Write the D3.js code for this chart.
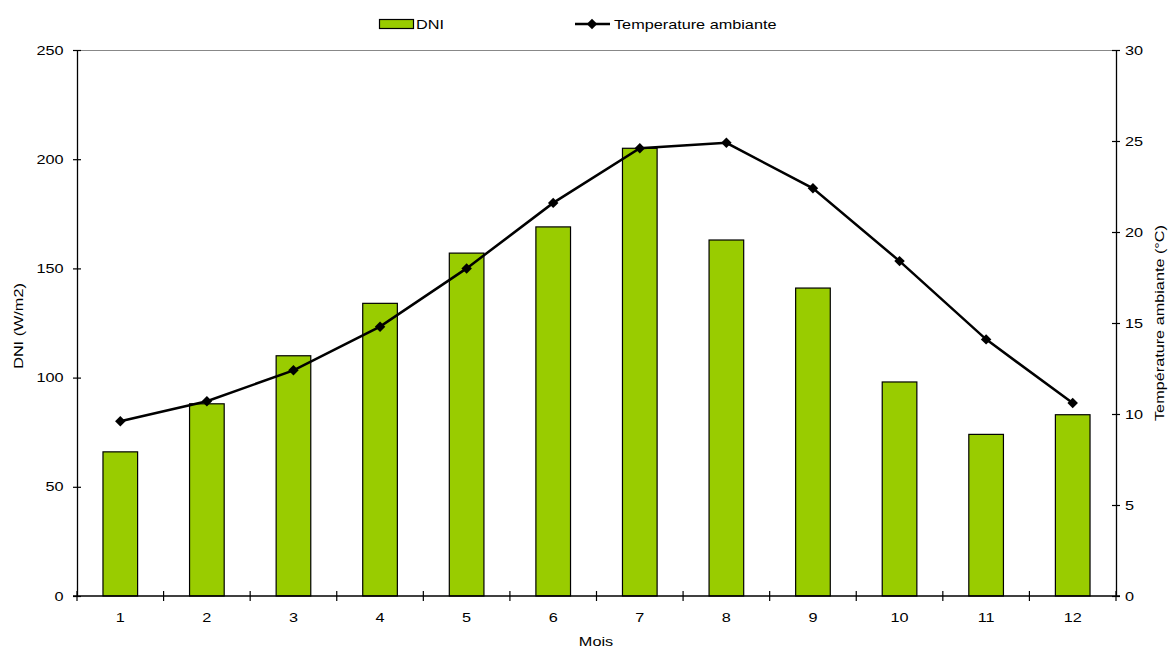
<!DOCTYPE html>
<html>
<head>
<meta charset="utf-8">
<script src="https://cdn.jsdelivr.net/npm/d3@7"></script>
<style>
  body { margin: 0; background: #fff; }
  svg text { font-family: "Liberation Sans", Arial, sans-serif; fill: #000; font-size: 13px; }
</style>
</head>
<body>
<svg id="chart" width="1168" height="648"></svg>
<script>
// Monthly data
const months = [1, 2, 3, 4, 5, 6, 7, 8, 9, 10, 11, 12];
const dni = [66, 88, 110, 134, 157, 169, 205, 163, 141, 98, 74, 83];
const temperature = [9.6, 10.7, 12.4, 14.8, 18.0, 21.6, 24.6, 24.9, 22.4, 18.4, 14.1, 10.6];
const leftTicks = [0, 50, 100, 150, 200, 250];
const rightTicks = [0, 5, 10, 15, 20, 25, 30];

const svg = d3.select("#chart");
const plot = { left: 77, right: 1116, top: 50, bottom: 596 };
const SX = 1.25; // wide glyph rendering

const x = d3.scaleBand().domain(months).range([plot.left, plot.right]);
const yL = d3.scaleLinear().domain([0, 250]).range([plot.bottom, plot.top]);
const yR = d3.scaleLinear().domain([0, 30]).range([plot.bottom, plot.top]);

const barW = x.bandwidth() * 0.4;

// text helper: positioned via transform, widened along the reading direction
function label(px, py, str, anchor, rot) {
  return svg.append("text")
    .attr("transform", `translate(${px},${py})${rot ? ` rotate(${rot})` : ""} scale(${SX},1)`)
    .attr("text-anchor", anchor || "start")
    .text(str);
}

// top frame line
svg.append("line")
  .attr("x1", plot.left).attr("x2", plot.right)
  .attr("y1", plot.top + 0.5).attr("y2", plot.top + 0.5)
  .attr("stroke", "#888").attr("stroke-width", 1);

// bars
svg.append("g").selectAll("rect").data(months).join("rect")
  .attr("x", d => x(d) + (x.bandwidth() - barW) / 2)
  .attr("y", (d, i) => yL(dni[i]))
  .attr("width", barW)
  .attr("height", (d, i) => plot.bottom - yL(dni[i]))
  .attr("fill", "#99CC00")
  .attr("stroke", "#000")
  .attr("stroke-width", 1.2);

function styleAxis(g) {
  g.selectAll("path").attr("stroke", "#000").attr("stroke-width", 1.3);
  g.selectAll("line").attr("stroke", "#000").attr("stroke-width", 1.2);
  g.selectAll("text").attr("font-size", null).attr("font-family", null);
}

// left axis
const gL = svg.append("g").attr("transform", `translate(${plot.left},0)`)
  .call(d3.axisLeft(yL).tickValues(leftTicks).tickSize(4).tickSizeOuter(0));
styleAxis(gL);
gL.selectAll(".tick line").attr("x1", 4).attr("x2", -4);
gL.selectAll(".tick text").attr("x", -13.5 / SX).attr("transform", `scale(${SX},1)`);

// right axis
const gR = svg.append("g").attr("transform", `translate(${plot.right},0)`)
  .call(d3.axisRight(yR).tickValues(rightTicks).tickSize(4).tickSizeOuter(0));
styleAxis(gR);
gR.selectAll(".tick line").attr("x1", -4).attr("x2", 4);
gR.selectAll(".tick text").attr("x", 9 / SX).attr("transform", `scale(${SX},1)`);

// x axis: ticks at band boundaries, labels at band centres
const gX = svg.append("g").attr("transform", `translate(0,${plot.bottom})`);
gX.append("line").attr("x1", plot.left - 4).attr("x2", plot.right + 4)
  .attr("stroke", "#000").attr("stroke-width", 1.3);
const bounds = d3.range(0, 13).map(i => plot.left + i * x.step());
gX.selectAll("line.tk").data(bounds).join("line").attr("class", "tk")
  .attr("x1", d => d).attr("x2", d => d).attr("y1", -5).attr("y2", 5)
  .attr("stroke", "#000").attr("stroke-width", 1.2);
months.forEach(m => label(x(m) + x.bandwidth() / 2, plot.bottom + 26, m, "middle"));

// temperature line
const line = d3.line()
  .x((d, i) => x(months[i]) + x.bandwidth() / 2)
  .y(d => yR(d));
svg.append("path").datum(temperature)
  .attr("d", line).attr("fill", "none")
  .attr("stroke", "#000").attr("stroke-width", 2.5);

const diamond = d3.symbol().type(d3.symbolDiamond2).size(70);
svg.append("g").selectAll("path").data(temperature).join("path")
  .attr("d", diamond)
  .attr("transform", (d, i) => `translate(${x(months[i]) + x.bandwidth() / 2},${yR(d)})`)
  .attr("fill", "#000");

// axis titles
label(23, 326, "DNI (W/m2)", "middle", -90);
label(1164, 323, "Température ambiante (°C)", "middle", -90);
label(596, 646, "Mois", "middle");

// legend
svg.append("rect").attr("x", 379.5).attr("y", 19.5).attr("width", 34).attr("height", 9)
  .attr("fill", "#99CC00").attr("stroke", "#000").attr("stroke-width", 1.2);
label(416, 28.5, "DNI");
svg.append("line").attr("x1", 575).attr("x2", 610).attr("y1", 24).attr("y2", 24)
  .attr("stroke", "#000").attr("stroke-width", 2.5);
svg.append("path").attr("d", diamond).attr("transform", "translate(592,24)").attr("fill", "#000");
label(614, 28.5, "Temperature ambiante");
</script>
</body>
</html>
